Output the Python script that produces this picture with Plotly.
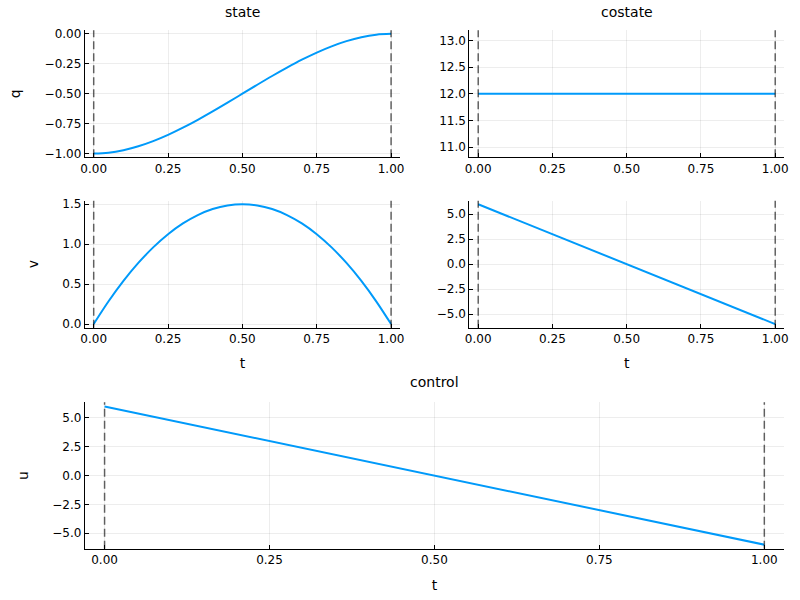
import plotly.graph_objects as go

# ---- data ----
t_fine = [0.0, 0.05, 0.1, 0.15, 0.2, 0.25, 0.3, 0.35, 0.4, 0.45, 0.5,
          0.55, 0.6, 0.65, 0.7, 0.75, 0.8, 0.85, 0.9, 0.95, 1.0]
q_vals = [-1.0, -0.993, -0.972, -0.939, -0.896, -0.844, -0.784, -0.718, -0.648, -0.575, -0.5,
          -0.425, -0.352, -0.282, -0.216, -0.156, -0.104, -0.061, -0.028, -0.007, 0.0]
v_vals = [0.0, 0.285, 0.54, 0.765, 0.96, 1.125, 1.26, 1.365, 1.44, 1.485, 1.5,
          1.485, 1.44, 1.365, 1.26, 1.125, 0.96, 0.765, 0.54, 0.285, 0.0]
t_ends = [0.0, 1.0]
p1_vals = [12.0, 12.0]
p2_vals = [6.0, -6.0]
u_vals = [6.0, -6.0]
bounds = [0.0, 1.0]
x_ticks = [0.0, 0.25, 0.5, 0.75, 1.0]
q_ticks = [-1.0, -0.75, -0.5, -0.25, 0.0]
p1_ticks = [11.0, 11.5, 12.0, 12.5, 13.0]
v_ticks = [0.0, 0.5, 1.0, 1.5]
pu_ticks = [-5.0, -2.5, 0.0, 2.5, 5.0]

BLUE = "#009AFA"
FONT = "DejaVu Sans"

fig = go.Figure()

panels = [
    ("x", "y", t_fine, q_vals, "spline", [0.102, 0.5], [0.74, 0.954], [-1.03, 0.03], q_ticks, ".2f", "q", None),
    ("x2", "y2", t_ends, p1_vals, "linear", [0.5875, 0.985], [0.74, 0.954], [10.81, 13.19], p1_ticks, ".1f", None, None),
    ("x3", "y3", t_fine, v_vals, "spline", [0.102, 0.5], [0.4525, 0.6667], [-0.045, 1.545], v_ticks, ".1f", "v", "t"),
    ("x4", "y4", t_ends, p2_vals, "linear", [0.5875, 0.985], [0.4525, 0.6667], [-6.36, 6.36], pu_ticks, ".1f", None, "t"),
    ("x5", "y5", t_ends, u_vals, "linear", [0.102, 0.985], [0.0795, 0.3267], [-6.36, 6.36], pu_ticks, ".1f", "u", "t"),
]

layout = dict(
    width=800, height=600,
    margin=dict(l=0, r=0, t=0, b=0),
    paper_bgcolor="white", plot_bgcolor="white",
    showlegend=False,
    font=dict(family=FONT, size=12, color="black"),
)
shapes = []
for xa, ya, xs, ys, shp, xd, yd, yr, yt, yf, ytitle, xtitle in panels:
    fig.add_trace(go.Scatter(x=xs, y=ys, mode="lines", xaxis=xa, yaxis=ya,
                             line=dict(color=BLUE, width=2, shape=shp)))
    xk = "xaxis" + xa[1:]
    yk = "yaxis" + ya[1:]
    layout[xk] = dict(
        domain=xd, anchor=ya, range=[-0.03, 1.03], tickvals=x_ticks, tickformat=".2f",
        showline=True, linecolor="black", linewidth=1, mirror=False,
        ticks="inside", ticklen=4, tickcolor="black",
        showgrid=True, gridcolor="rgba(0,0,0,0.07)", gridwidth=0.5, zeroline=False,
        tickfont=dict(size=12, family=FONT),
        title=dict(text=xtitle or "", font=dict(size=14, family=FONT), standoff=13),
    )
    layout[yk] = dict(
        domain=yd, anchor=xa, range=yr, tickvals=yt, tickformat=yf,
        showline=True, linecolor="black", linewidth=1, mirror=False,
        ticks="inside", ticklen=4, tickcolor="black",
        showgrid=True, gridcolor="rgba(0,0,0,0.07)", gridwidth=0.5, zeroline=False,
        tickfont=dict(size=12, family=FONT),
        title=dict(text=ytitle or "", font=dict(size=14, family=FONT), standoff=20),
    )
    for b in bounds:
        shapes.append(dict(type="line", xref=xa, yref=ya + " domain", x0=b, x1=b, y0=0, y1=1,
                           line=dict(color="rgba(0,0,0,0.6)", width=1.5, dash="8px,4px")))

layout["shapes"] = shapes
layout["annotations"] = [
    dict(text="state", xref="paper", yref="paper", x=(0.102 + 0.5) / 2, y=1 - 9 / 600,
         showarrow=False, xanchor="center", yanchor="middle", font=dict(size=14, family=FONT)),
    dict(text="costate", xref="paper", yref="paper", x=(0.5875 + 0.985) / 2, y=1 - 9 / 600,
         showarrow=False, xanchor="center", yanchor="middle", font=dict(size=14, family=FONT)),
    dict(text="control", xref="paper", yref="paper", x=(0.102 + 0.985) / 2, y=1 - 383 / 600,
         showarrow=False, xanchor="center", yanchor="middle", font=dict(size=14, family=FONT)),
]
fig.update_layout(**layout)
fig.write_html("out.html", config={"displayModeBar": False},
               post_script="document.body.style.margin='0';document.body.style.overflow='hidden';")
